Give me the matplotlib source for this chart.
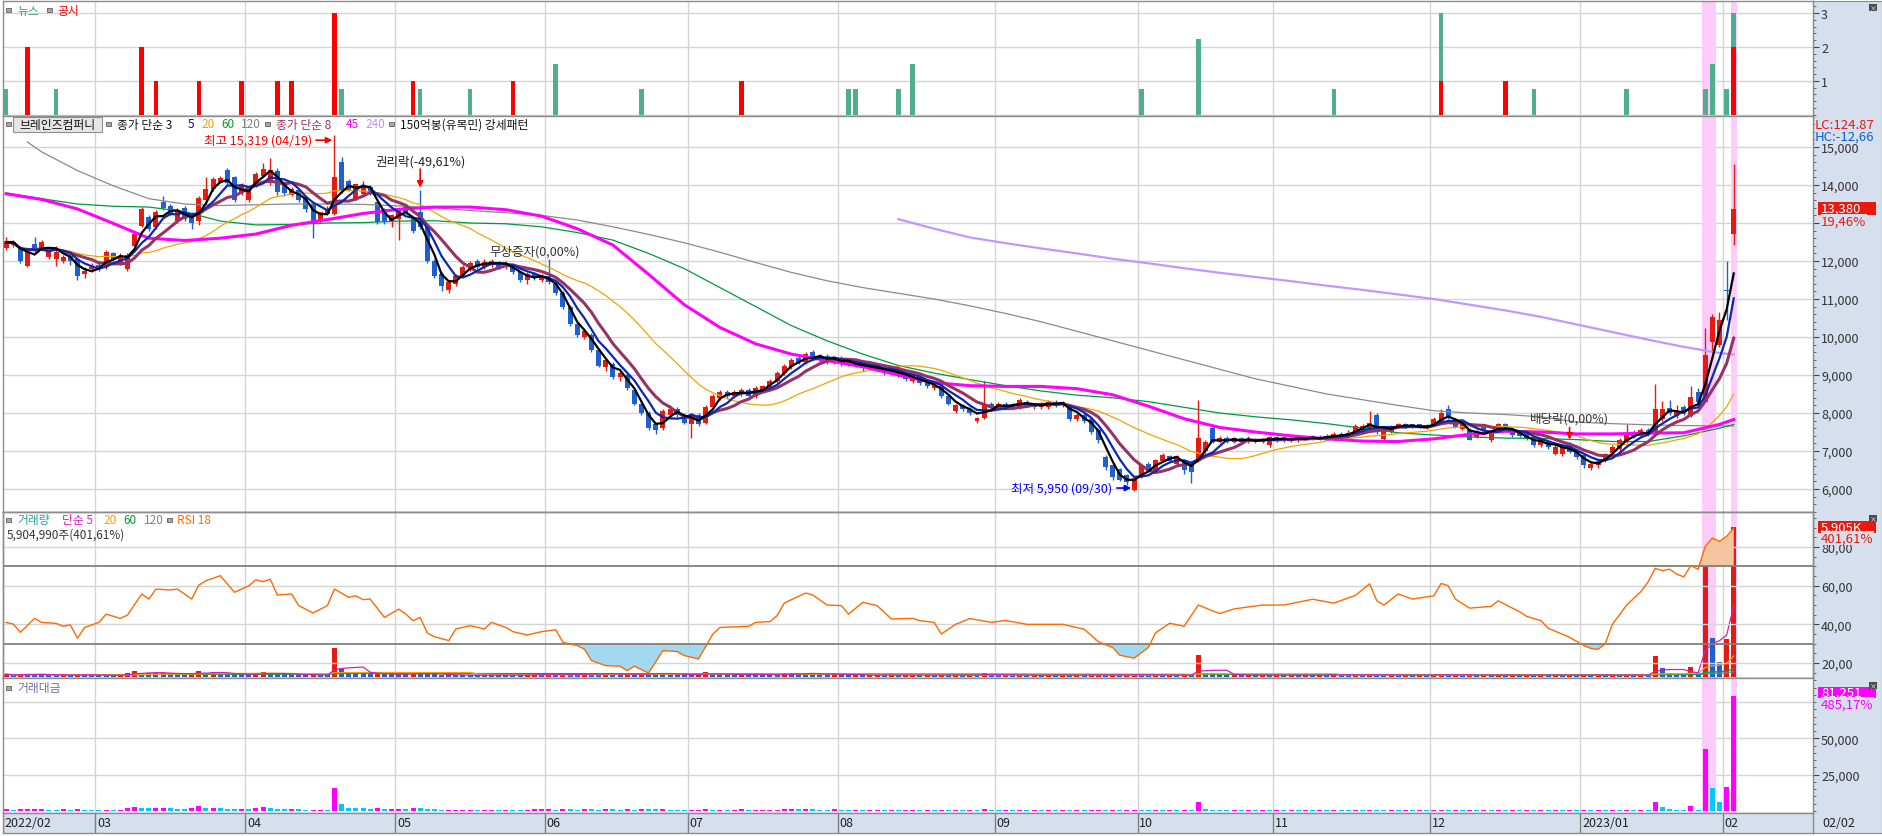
import numpy as np
import pandas as pd
import matplotlib
matplotlib.use('Agg')
import matplotlib.pyplot as plt
from matplotlib.patches import Rectangle
from matplotlib.ticker import FixedLocator, MultipleLocator, FuncFormatter

plt.rcParams['font.family'] = ['Noto Sans CJK KR', 'DejaVu Sans']
plt.rcParams['axes.unicode_minus'] = False

# ---------------- data (daily, 2022/02 .. 2023/02/02) ----------------
month_labels = ['2022/02', '03', '04', '05', '06', '07', '08', '09', '10', '11', '12', '2023/01', '02']
month_start = [0, 13, 34, 55, 76, 96, 117, 139, 159, 178, 200, 221, 241]

opens = [
    12330, 12420, 12360, 11880, 12450, 12330, 12100, 12060, 12000, 12140, 12050, 11650, 11800,
    11900, 11850, 12200, 11950, 11800, 12400, 12930, 13150, 12900, 13550, 13460, 13050, 13400, 13250, 13050, 13600, 13900, 14080, 14400, 14200, 13800,
    13600, 13990, 14250, 14050, 14380, 14000, 13750, 13860, 13640, 13500, 13060, 13250, 13240, 14600, 14100, 13640, 13770, 13940, 13550, 13370, 13020,
    13100, 13460, 13110, 13280, 12930, 12000, 11650, 11250, 11400, 11600, 11800, 12000, 11850, 11900, 11980, 11850, 11900, 11700, 11500, 11650, 11500,
    11600, 11400, 11150, 10800, 10350, 10000, 10050, 9650, 9200, 9300, 8950, 9000, 8600, 8250, 8000, 7700, 7600, 7950, 8100, 7950,
    7700, 7950, 7750, 8150, 8400, 8550, 8450, 8500, 8600, 8450, 8600, 8700, 8850, 9050, 9200, 9450, 9350, 9600, 9400, 9500, 9350,
    9450, 9300, 9350, 9250, 9180, 9250, 9150, 9050, 9150, 9000, 8850, 8950, 8800, 8650, 8700, 8450, 8050, 8200, 8100, 7800, 7860, 8250,
    8150, 8250, 8150, 8150, 8300, 8200, 8150, 8150, 8300, 8200, 8200, 7850, 7950, 7850, 7540, 6840, 6620, 6530, 6360, 5970,
    6360, 6660, 6480, 6750, 6880, 6660, 6750, 6700, 6750, 7000, 7600, 7250, 7350, 7250, 7330, 7250, 7320, 7240, 7150,
    7360, 7280, 7350, 7280, 7380, 7300, 7380, 7320, 7330, 7450, 7380, 7500, 7550, 7600, 7950, 7320, 7500, 7650, 7700, 7700, 7700, 7680,
    7700, 7750, 8100, 7840, 7580, 7540, 7370, 7700, 7300, 7560, 7700, 7500, 7500, 7490, 7360, 7150, 7270, 6930, 6930, 7140, 7020,
    6890, 6550, 6620, 6750, 6950, 7050, 7250, 7500, 7400, 7550, 7460, 7840, 8120, 7910, 8150, 7930, 8550, 8300, 9880, 9800,
    11250, 12710,
]
highs = [
    12620, 12540, 12400, 12300, 12620, 12560, 12320, 12400, 12150, 12180, 12100, 11850, 11950,
    12000, 12300, 12250, 12200, 12200, 12750, 13420, 13200, 13350, 13700, 13500, 13400, 13450, 13300, 13700, 14200, 14200, 14250, 14450, 14250, 14050,
    13950, 14350, 14580, 14720, 14450, 14100, 13950, 13900, 13700, 13550, 13300, 13450, 15319, 14740, 14150, 14000, 14100, 14000, 13600, 13400, 13250,
    13400, 13500, 13150, 13880, 12950, 12050, 11700, 11500, 11650, 11900, 12000, 12050, 12050, 12050, 12000, 12000, 11950, 11750, 11700, 11700, 11650,
    12050, 11450, 11200, 10850, 10400, 10250, 10100, 9700, 9450, 9350, 9100, 9050, 8650, 8300, 8050, 7750, 8100, 8200, 8150, 8000,
    8000, 8000, 8200, 8500, 8600, 8600, 8600, 8650, 8650, 8700, 8750, 8900, 9100, 9300, 9450, 9500, 9600, 9650, 9550, 9550, 9500,
    9500, 9400, 9400, 9300, 9300, 9300, 9200, 9200, 9200, 9050, 9000, 9000, 8850, 8800, 8750, 8500, 8250, 8250, 8150, 7900, 8850, 8300,
    8300, 8300, 8260, 8400, 8350, 8250, 8300, 8350, 8350, 8320, 8250, 8000, 8000, 7900, 7600, 6900, 6650, 6550, 6400, 6300,
    6650, 6700, 6800, 6950, 6900, 6900, 6800, 6750, 8350, 7300, 7650, 7400, 7400, 7380, 7380, 7400, 7350, 7350, 7400,
    7400, 7400, 7400, 7420, 7400, 7420, 7420, 7450, 7500, 7500, 7550, 7700, 7700, 8050, 8000, 7620, 7680, 7750, 7750, 7720, 7720, 7700,
    7900, 8100, 8200, 7880, 7750, 7600, 7550, 7720, 7520, 7750, 7740, 7540, 7520, 7520, 7400, 7350, 7300, 7150, 7150, 7250, 7050,
    6900, 6700, 6800, 6950, 7150, 7350, 7700, 7550, 7600, 7600, 8760, 8320, 8350, 8200, 8200, 8700, 8650, 10230, 10600, 10650,
    12000, 14550,
]
lows = [
    12300, 12380, 11960, 11850, 12220, 12300, 12050, 11880, 11950, 11900, 11500, 11550, 11700,
    11750, 11800, 12000, 11900, 11750, 12350, 12900, 12800, 12850, 13350, 13200, 13000, 13050, 12850, 12950, 13550, 13850, 14050, 14000, 13550, 13750,
    13550, 13950, 14200, 14000, 13750, 13700, 13700, 13550, 13300, 12600, 13000, 13200, 13200, 13800, 13850, 13600, 13750, 13750, 12980, 12980, 12900,
    12550, 13250, 12750, 12850, 11950, 11550, 11200, 11150, 11350, 11550, 11750, 11800, 11800, 11850, 11800, 11800, 11650, 11450, 11400, 11500, 11450,
    11400, 11100, 10750, 10300, 10000, 9950, 9600, 9200, 9100, 8900, 8850, 8600, 8200, 7950, 7550, 7450, 7550, 7900, 7900, 7700,
    7350, 7650, 7700, 8100, 8350, 8400, 8400, 8450, 8400, 8400, 8550, 8650, 8800, 9000, 9150, 9300, 9300, 9400, 9350, 9300, 9300,
    9250, 9250, 9200, 9100, 9150, 9100, 9000, 9000, 8950, 8850, 8800, 8750, 8650, 8600, 8400, 8200, 8000, 8050, 7950, 7750, 7850, 8100,
    8100, 8100, 8100, 8100, 8150, 8100, 8100, 8100, 8150, 8150, 7800, 7800, 7750, 7450, 7200, 6500, 6250, 6200, 6100, 5950,
    6300, 6450, 6450, 6700, 6700, 6600, 6400, 6150, 6700, 6950, 7200, 7200, 7200, 7200, 7200, 7200, 7200, 7200, 7100,
    7250, 7250, 7250, 7250, 7280, 7280, 7280, 7300, 7300, 7350, 7350, 7480, 7500, 7550, 7450, 7300, 7480, 7600, 7600, 7600, 7600, 7580,
    7650, 7720, 7850, 7600, 7550, 7280, 7330, 7500, 7250, 7520, 7580, 7380, 7360, 7300, 7100, 7100, 7050, 6900, 6880, 6950, 6800,
    6550, 6500, 6550, 6700, 6900, 7000, 7200, 7350, 7350, 7400, 7450, 7800, 7950, 7880, 7950, 7900, 8250, 8280, 9630, 9750,
    10450, 12420,
]
closes = [
    12490, 12490, 12010, 12230, 12270, 12490, 12280, 12230, 12100, 12000, 11600, 11750, 11850,
    11800, 12250, 12050, 12100, 12150, 12700, 13370, 12850, 13300, 13400, 13250, 13350, 13100, 13000, 13650, 13900, 14150, 14180, 14060, 13600, 13990,
    13900, 14300, 14430, 14400, 13820, 13780, 13900, 13600, 13370, 13050, 13280, 13370, 14200, 13860, 13880, 14030, 13990, 13810, 13020, 13020, 13200,
    13370, 13280, 12800, 12890, 12010, 11600, 11350, 11450, 11600, 11850, 11950, 11850, 11980, 12000, 11850, 11950, 11700, 11500, 11650, 11550, 11600,
    11450, 11150, 10800, 10350, 10050, 10150, 9650, 9250, 9400, 8950, 9050, 8650, 8250, 8000, 7600, 7550, 8050, 8100, 7950, 7750,
    7950, 7700, 8150, 8450, 8550, 8450, 8550, 8600, 8450, 8650, 8700, 8850, 9050, 9250, 9400, 9350, 9550, 9450, 9500, 9350, 9450,
    9300, 9350, 9250, 9180, 9250, 9150, 9050, 9150, 9000, 8900, 8950, 8800, 8700, 8750, 8450, 8250, 8200, 8100, 8000, 7860, 8200, 8150,
    8250, 8150, 8220, 8350, 8200, 8150, 8250, 8300, 8200, 8280, 7850, 7950, 7800, 7500, 7280, 6580, 6320, 6230, 6190, 6280,
    6620, 6480, 6760, 6890, 6750, 6880, 6490, 6450, 7350, 7250, 7250, 7350, 7250, 7330, 7250, 7320, 7240, 7300, 7360,
    7280, 7350, 7280, 7380, 7300, 7380, 7320, 7400, 7450, 7380, 7480, 7670, 7650, 7750, 7500, 7590, 7650, 7700, 7650, 7650, 7620, 7620,
    7840, 8000, 7880, 7620, 7700, 7300, 7500, 7560, 7480, 7700, 7620, 7420, 7400, 7320, 7150, 7310, 7100, 7100, 7100, 6970, 6840,
    6620, 6650, 6750, 6930, 7100, 7300, 7450, 7400, 7550, 7450, 8110, 8100, 8000, 8040, 8000, 8420, 8280, 9530, 10530, 10440,
    11200, 13380,
]
# volume in thousand shares
volume_k = [
    95, 50, 95, 95, 95, 95, 50, 50, 95, 50, 95, 80, 50,
    50, 50, 50, 80, 150, 230, 140, 140, 140, 140, 140, 90, 90, 140, 240, 140, 170, 140, 90, 90, 90,
    90, 140, 170, 140, 100, 90, 90, 90, 50, 60, 60, 50, 1130, 330, 170, 140, 140, 90, 140, 90, 90,
    90, 90, 180, 140, 90, 90, 60, 60, 60, 60, 60, 60, 60, 60, 60, 60, 60, 60, 80, 100, 100,
    140, 60, 100, 100, 100, 110, 110, 110, 120, 120, 60, 120, 70, 140, 140, 140, 140, 70, 70, 70,
    70, 130, 200, 70, 70, 70, 70, 140, 70, 70, 70, 70, 70, 130, 130, 130, 130, 130, 70, 70, 130,
    75, 60, 70, 55, 65, 80, 60, 70, 55, 65, 75, 60, 70, 55, 65, 60, 75, 55, 70, 60, 130, 70,
    60, 70, 55, 65, 60, 70, 55, 65, 60, 70, 55, 65, 60, 80, 85, 70, 75, 60, 65, 100,
    80, 60, 70, 55, 65, 60, 70, 55, 850, 150, 140, 70, 60, 65, 55, 70, 60, 65, 55,
    65, 55, 70, 60, 65, 55, 70, 60, 110, 65, 55, 70, 60, 110, 65, 55, 70, 60, 65, 55, 70, 60,
    65, 120, 60, 70, 55, 65, 60, 70, 55, 65, 60, 70, 55, 65, 60, 70, 55, 65, 60, 70, 55,
    65, 55, 70, 60, 65, 55, 75, 60, 65, 55, 800, 340, 145, 70, 66, 370, 110, 4490, 1530, 590,
    1470, 5905,
]

# long moving averages (day 0, day 3, then every 5th day)
ma_day = [0, 3] + list(range(5, 241, 5)) + [242]
ma45 = [13770, 13680, 13620, 13370, 12990, 12600, 12540, 12600, 12710, 12940, 13090, 13250, 13360, 13420, 13420, 13350, 13180,
        12850, 12420, 11650, 10850, 10250, 9820, 9550, 9380, 9220, 9000, 8800, 8720, 8700, 8700, 8640, 8480, 8180, 7850,
        7620, 7500, 7400, 7320, 7260, 7250, 7320, 7440, 7520, 7500, 7450, 7450, 7470, 7480, 7700, 7830]
ma60 = [13790, 13700, 13640, 13500, 13440, 13420, 13300, 13050, 12950, 12960, 13000, 13010, 13050, 13060, 13000, 12980, 12900,
        12750, 12550, 12200, 11800, 11300, 10800, 10300, 9900, 9550, 9250, 9050, 8880, 8720, 8580, 8470, 8400, 8300, 8150,
        8000, 7900, 7820, 7720, 7600, 7480, 7420, 7370, 7340, 7330, 7300, 7250, 7250, 7400, 7600, 7700]
ma120 = [np.nan, 15130, 14870, 14380, 13980, 13640, 13500, 13460, 13480, 13500, 13500, 13490, 13450, 13400, 13330, 13270, 13200,
         13080, 12900, 12700, 12480, 12230, 11960, 11700, 11480, 11300, 11150, 11000, 10820, 10620, 10400, 10150, 9900, 9650,
         9400, 9150, 8900, 8700, 8500, 8350, 8200, 8060, 8000, 7960, 7900, 7760, 7720, 7690, 7670, 7660, 7660]
ma240 = [np.nan] * 26 + [13100, 12850, 12620, 12470, 12330, 12200, 12060, 11940, 11810, 11690, 11580, 11470, 11350, 11240,
                         11120, 11000, 10850, 10700, 10530, 10330, 10130, 9930, 9740, 9580, 9540]

# RSI 18 line vertices (day, value)
rsi_pts = [(0, 41.0), (1, 40.2), (2, 35.9), (4, 43.1), (5, 41.0), (7, 40.5), (8, 39.0), (9, 39.7), (10, 32.8), (11, 38.4),
           (13, 41.0), (14, 45.3), (16, 43.1), (17, 44.8), (19, 55.7), (20, 53.1), (21, 58.3), (23, 57.8), (24, 58.3),
           (26, 53.1), (27, 60.3), (28, 62.6), (30, 65.2), (32, 56.6), (34, 60.0), (35, 63.1), (36, 62.1), (37, 63.4),
           (38, 55.2), (40, 55.7), (41, 49.7), (43, 45.9), (45, 49.7), (46, 58.3), (48, 54.0), (49, 54.8), (50, 52.8),
           (51, 53.1), (53, 43.6), (55, 47.9), (56, 45.3), (57, 41.9), (58, 43.6), (59, 35.5), (60, 33.6), (62, 31.6),
           (63, 37.6), (65, 39.3), (67, 37.6), (68, 41.0), (70, 38.4), (71, 36.2), (73, 34.5), (75, 36.2), (77, 37.2),
           (78, 30.7), (80, 29.0), (81, 27.2), (82, 21.2), (84, 18.6), (86, 18.3), (87, 16.0), (88, 18.3), (90, 14.8),
           (92, 26.4), (94, 25.9), (95, 23.8), (97, 22.1), (99, 35.0), (100, 38.4), (104, 39.0), (105, 41.0), (107, 41.4),
           (108, 44.5), (109, 51.0), (110, 52.8), (112, 56.2), (113, 55.2), (115, 50.0), (117, 49.7), (118, 45.3),
           (120, 51.4), (122, 49.7), (124, 42.8), (127, 43.1), (128, 41.9), (130, 41.0), (131, 35.0), (133, 40.0),
           (135, 43.0), (138, 41.0), (140, 42.0), (143, 40.0), (148, 40.0), (151, 37.5), (153, 31.0), (155, 28.0),
           (156, 24.0), (158, 22.5), (160, 28.0), (161, 35.6), (163, 40.6), (165, 39.0), (167, 50.0), (169, 47.0),
           (170, 45.6), (172, 48.0), (176, 50.0), (179, 50.0), (183, 53.0), (186, 51.0), (189, 55.0), (191, 61.0),
           (192, 52.2), (193, 50.0), (195, 55.7), (197, 53.1), (200, 54.8), (201, 61.2), (202, 60.0), (203, 53.1),
           (205, 48.4), (208, 49.3), (209, 52.2), (212, 46.5), (213, 44.1), (215, 41.9), (216, 38.0), (219, 33.3),
           (221, 29.0), (222, 27.5), (223, 27.0), (224, 30.0), (225, 40.0), (227, 50.0), (229, 57.0), (230, 62.0),
           (231, 69.0), (232, 67.8), (233, 68.6), (234, 66.0), (235, 64.6), (236, 70.5), (237, 68.5), (238, 80.4),
           (239, 84.7), (240, 83.0), (241, 85.6), (242, 89.9)]

# news / disclosure counts (bar heights as drawn)
news_days = [0, 7, 47, 58, 65, 77, 89, 118, 119, 125, 127, 159, 167, 186, 201, 214, 227, 238, 239, 241, 242]
news_h = [0.77, 0.77, 0.77, 0.77, 0.77, 1.5, 0.77, 0.77, 0.77, 0.77, 1.5, 0.77, 2.25, 0.77, 2.0, 0.77, 0.77, 0.77, 1.5, 0.77, 1.0]
notice_days = [3, 19, 21, 27, 33, 38, 40, 46, 57, 71, 103, 201, 210, 242]
notice_h = [2, 2, 1, 1, 1, 1, 1, 3, 1, 1, 1, 1, 1, 2]

# ---------------- derived ----------------
o = np.array(opens, float)
h = np.array(highs, float)
l = np.array(lows, float)
c = np.array(closes, float)
vol = np.array(volume_k, float)
n = len(c)
days = np.arange(n)
value_m = vol * c / 1000.0  # trading value, million won

cs = pd.Series(c)
ma3 = cs.rolling(3, min_periods=1).mean()
ma5 = cs.rolling(5, min_periods=1).mean()
ma8 = cs.rolling(8, min_periods=1).mean()
ma20 = cs.rolling(20, min_periods=1).mean()
vs = pd.Series(vol)

RED = '#E8190E'
BLUE = '#1E5FD2'
GRID = '#D4D4D4'
EDGE = '#8C8C8C'
AXBG = '#D5DFED'
LEG = 8.5

W, H = 1882, 837


def rect(x0, y0, x1, y1):
    return [x0 / W, 1 - y1 / H, (x1 - x0) / W, (y1 - y0) / H]


def fx(x):
    return x / W


def fy(y):
    return 1 - y / H


fig = plt.figure(figsize=(W / 100, H / 100), dpi=100)
fig.patch.set_facecolor('white')

bg = fig.add_axes(rect(1813, 2, 1882, 834), zorder=-1)
bg.set_facecolor(AXBG)
bg.set_xticks([])
bg.set_yticks([])
for s in bg.spines.values():
    s.set_color(EDGE)

ax_n = fig.add_axes(rect(3, 2, 1813, 117))
ax_p = fig.add_axes(rect(3, 117, 1813, 513))
ax_v = fig.add_axes(rect(3, 513, 1813, 679))
ax_r = ax_v.twinx()
ax_t = fig.add_axes(rect(3, 679, 1813, 814))
ax_d = fig.add_axes(rect(3, 814, 1813, 834))

XL = (-0.43, 253.1)
for ax in (ax_n, ax_p, ax_v, ax_r, ax_t, ax_d):
    ax.set_xlim(*XL)
    ax.set_xticks([])
    for s in ax.spines.values():
        s.set_color(EDGE)
        s.set_linewidth(1.0)

# month separators and highlight bands
for ax in (ax_n, ax_p, ax_v, ax_t):
    for b in month_start[1:]:
        ax.axvline(b - 0.5, color=GRID, lw=1, zorder=0)
    ax.axvspan(237.6, 239.5, color='#FDCCFB', lw=0, zorder=0.2)
    ax.axvspan(241.6, 242.4, color='#FDCCFB', lw=0, zorder=0.2)


def right_ticks(ax, major, minor, fmt, labelcolor='#333333'):
    ax.yaxis.set_ticks_position('right')
    ax.yaxis.set_major_locator(FixedLocator(major))
    ax.yaxis.set_minor_locator(MultipleLocator(minor))
    ax.yaxis.set_major_formatter(FuncFormatter(fmt))
    ax.tick_params(axis='y', which='major', direction='out', length=4.3, width=0.8, color='#444444',
                   labelsize=9, pad=1.5, labelcolor=labelcolor)
    ax.tick_params(axis='y', which='minor', direction='out', length=2.2, width=0.7, color='#666666')


# ---- news panel ----
ax_n.set_ylim(-0.04, 3.36)
for v in (0, 1, 2, 3):
    ax_n.axhline(v, color=GRID, lw=1, zorder=0)
notice_map = dict(zip(notice_days, notice_h))
ax_n.bar(news_days, news_h, bottom=[notice_map.get(d, 0) for d in news_days], width=0.65,
         color='#4FAE8C', lw=0, zorder=2)
ax_n.bar(notice_days, notice_h, width=0.65, color='#FF0000', lw=0, zorder=3)
right_ticks(ax_n, [1, 2, 3], 0.2, lambda v, p: f'{int(v)}')

# ---- price panel ----
ax_p.set_ylim(5395, 15816)
for v in range(6000, 15001, 1000):
    ax_p.axhline(v, color=GRID, lw=1, zorder=0)
col = np.where(c >= o, RED, BLUE)
ax_p.vlines(days, l, h, colors=col, lw=1.0, zorder=2)
ax_p.bar(days, np.maximum(np.abs(c - o), 20), bottom=np.minimum(o, c), width=0.7, color=col, lw=0, zorder=3)

ax_p.plot(ma_day, ma120, color='#8A8A8A', lw=0.9, zorder=4)
ax_p.plot(ma_day, ma60, color='#009940', lw=0.9, zorder=4)
ax_p.plot(days, ma20, color='#F0A500', lw=0.9, zorder=4)
ax_p.plot(ma_day, ma240, color='#C296FF', lw=1.6, zorder=4)
ax_p.plot(ma_day, ma45, color='#FF00FF', lw=2.2, zorder=5)
ax_p.plot(days, ma8, color='#963264', lw=2.2, zorder=6)
ax_p.plot(days, ma5, color='#0A28B4', lw=1.6, zorder=7)
ax_p.plot(days, ma3, color='#000000', lw=1.6, zorder=8)
right_ticks(ax_p, list(range(6000, 15001, 1000)), 200,
            lambda v, p: '' if int(v) == 13000 else f'{int(v):,}')

arrow_kw = dict(arrowstyle='-|>', lw=1.2, mutation_scale=9, shrinkA=0, shrinkB=0)
ax_p.text(42.9, 15180, '최고 15,319 (04/19)', ha='right', va='center', color='#FF0000', fontsize=9, zorder=10)
ax_p.annotate('', xy=(45.7, 15180), xytext=(43.4, 15180), arrowprops=dict(color='#FF0000', **arrow_kw), zorder=10)
ax_p.text(58, 14630, '권리락(-49,61%)', ha='center', va='center', color='#222222', fontsize=9, zorder=10)
ax_p.annotate('', xy=(58, 13930), xytext=(58, 14420), arrowprops=dict(color='#FF0000', **arrow_kw), zorder=10)
ax_p.text(74, 12260, '무상증자(0,00%)', ha='center', va='center', color='#333333', fontsize=9, zorder=10)
ax_p.text(154.9, 6026, '최저 5,950 (09/30)', ha='right', va='center', color='#0000FF', fontsize=9, zorder=10)
ax_p.annotate('', xy=(157.6, 6026), xytext=(155.6, 6026), arrowprops=dict(color='#0000FF', **arrow_kw), zorder=10)
ax_p.text(219, 7870, '배당락(0,00%)', ha='center', va='center', color='#333333', fontsize=9, zorder=10)
ax_p.annotate('', xy=(219, 7300), xytext=(219, 7620), arrowprops=dict(color='#FF0000', **arrow_kw), zorder=10)

# ---- volume + RSI panel ----
ax_v.set_ylim(-51, 6489)
ax_v.set_yticks([])
vcol = [RED] + [RED if vol[i] > vol[i - 1] else BLUE for i in range(1, n)]
ax_v.bar(days, vol, width=0.7, color=vcol, lw=0, zorder=2)
ax_v.plot(days, vs.rolling(120, min_periods=1).mean(), color='#808080', lw=0.9, zorder=3)
ax_v.plot(days, vs.rolling(60, min_periods=1).mean(), color='#00A040', lw=0.9, zorder=3)
ax_v.plot(days, vs.rolling(20, min_periods=1).mean(), color='#F0A500', lw=0.9, zorder=3)
ax_v.plot(days, vs.rolling(5, min_periods=1).mean(), color='#D020C0', lw=0.9, zorder=3)

ax_r.set_ylim(12.2, 98.2)
rd = np.array([p[0] for p in rsi_pts], float)
rv = np.array([p[1] for p in rsi_pts], float)
for v in (20, 40, 60, 80):
    ax_r.axhline(v, color=GRID, lw=1, zorder=0)
ax_r.fill_between(rd, rv, 30, where=rv < 30, interpolate=True, color='#A3D9F0', lw=0, zorder=1)
ax_r.fill_between(rd, rv, 70, where=rv > 70, interpolate=True, color='#F5C4A1', lw=0, zorder=1)
ax_r.axhline(30, color='#7F7F7F', lw=1.3, zorder=2)
ax_r.axhline(70, color='#7F7F7F', lw=1.3, zorder=2)
ax_r.plot(rd, rv, color='#FF6A00', lw=1.0, zorder=3)
right_ticks(ax_r, [20, 40, 60, 80], 5, lambda v, p: f'{v:.2f}'.replace('.', ','))

# ---- trading value panel ----
ax_t.set_ylim(-1377, 91600)
for v in (25000, 50000, 75000):
    ax_t.axhline(v, color=GRID, lw=1, zorder=0)
tcol = ['#FF00FF'] + ['#FF00FF' if value_m[i] > value_m[i - 1] else '#00C8FF' for i in range(1, n)]
ax_t.bar(days, value_m, width=0.7, color=tcol, lw=0, zorder=2)
right_ticks(ax_t, [25000, 50000], 5000, lambda v, p: f'{int(v):,}')

# ---- date bar ----
ax_d.set_facecolor(AXBG)
ax_d.set_ylim(0, 1)
ax_d.set_yticks([])
for b, lab in zip(month_start, month_labels):
    ax_d.axvline(b - 0.5, color='#7F7F7F', lw=1)
    ax_d.text(b - 0.5 + 0.25, 0.5, lab, ha='left', va='center', fontsize=9, color='#222222')
fig.text(fx(1822), fy(824), '02/02', ha='left', va='center', fontsize=9, color='#222222')

# ---- legends ----


def square(x, y):
    fig.add_artist(Rectangle((fx(x), fy(y + 2.3)), 4.6 / W, 4.6 / H, transform=fig.transFigure,
                             fc='#A8A8A8', ec='#606060', lw=0.6))


def label(x, y, s, color, size=LEG):
    fig.text(fx(x), fy(y), s, ha='left', va='center', fontsize=size, color=color)


square(6, 11)
label(17, 11, '뉴스', '#3FA07E')
square(47, 11)
label(57, 11, '공시', '#FF0000')

square(6, 125)
fig.add_artist(Rectangle((fx(13), fy(133)), 89 / W, 15 / H, transform=fig.transFigure,
                         fc='#E6E6E6', ec='#909090', lw=0.8))
fig.text(fx(57.5), fy(125.5), '브레인즈컴퍼니', ha='center', va='center', fontsize=LEG, color='#111111')
square(106, 125)
label(117, 125, '종가 단순 3', '#111111')
label(188, 125, '5', '#0000C0')
label(201, 125, '20', '#F0A000')
label(221, 125, '60', '#009933')
label(241, 125, '120', '#808080')
square(265, 125)
label(276, 125, '종가 단순 8', '#993366')
label(346, 125, '45', '#FF00FF')
label(365, 125, '240', '#C090FF')
square(389, 125)
label(400, 125, '150억봉(유목민) 강세패턴', '#111111')

square(6, 521)
label(17, 521, '거래량', '#2E9E9E')
label(62, 521, '단순 5', '#E020C0')
label(103, 521, '20', '#F0A000')
label(123, 521, '60', '#009933')
label(144, 521, '120', '#808080')
square(167, 521)
label(177, 521, 'RSI 18', '#FF6600')
label(7, 535, '5,904,990주(401,61%)', '#333333')

square(6, 689)
label(17, 689, '거래대금', '#7070A0')

# ---- right side value boxes ----


def value_box(y0, y1, s, fc):
    fig.add_artist(Rectangle((fx(1818), fy(y1)), 58 / W, (y1 - y0) / H, transform=fig.transFigure,
                             fc=fc, ec='none', zorder=5))
    fig.text(fx(1821), fy((y0 + y1) / 2), s, ha='left', va='center', fontsize=9.5, color='white', zorder=6)


def side_text(y, s, color):
    fig.text(fx(1821), fy(y), s, ha='left', va='center', fontsize=9.5, color=color, zorder=6,
             bbox=dict(fc=AXBG, ec='none', pad=0.3))


fig.text(fx(1815), fy(125), 'LC:124,87', ha='left', va='center', fontsize=9.5, color='#E8190E', zorder=6,
         bbox=dict(fc=AXBG, ec='none', pad=0.3))
fig.text(fx(1815), fy(137), 'HC:-12,66', ha='left', va='center', fontsize=9.5, color='#1060D0', zorder=6,
         bbox=dict(fc=AXBG, ec='none', pad=0.3))
value_box(203, 216, '13,380', '#E8190E')
side_text(222, '19,46%', '#E8190E')
value_box(522, 534, '5,905K', '#E8190E')
side_text(539, '401,61%', '#E8190E')
value_box(688, 699, '81,251', '#FF00FF')
side_text(705, '485,17%', '#FF00FF')

for yy in (5, 516, 683):
    fig.add_artist(Rectangle((fx(1869), fy(yy + 7)), 8 / W, 7 / H, transform=fig.transFigure,
                             fc='#4A4A4A', ec='none', zorder=6))
    fig.text(fx(1873), fy(yy + 3.5), '×', ha='center', va='center', fontsize=5, color='white', zorder=7)

fig.savefig('out.png', dpi=100, facecolor='white')
